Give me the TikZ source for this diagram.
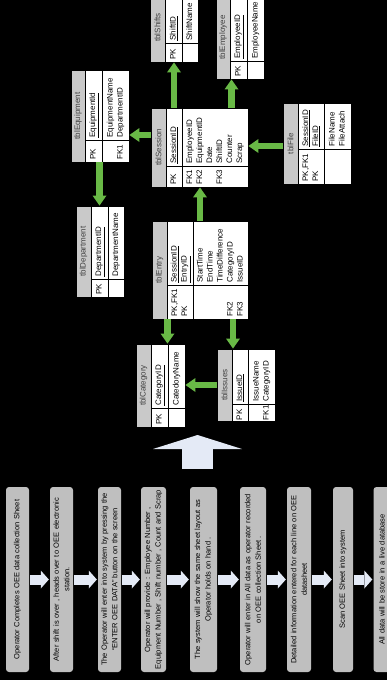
\documentclass[tikz,border=0pt]{standalone}
\usepackage{fontspec}
\setmainfont{Liberation Sans}
\usetikzlibrary{arrows.meta}

\begin{document}
\begin{tikzpicture}[x=1pt,y=-1pt,every node/.append style={rotate=90},
  hdr/.style={draw=black,line width=.9pt,fill=hdrgray,text=black!75,inner sep=0pt,font=\fontsize{8}{10}\selectfont},
  cell/.style={draw=black,line width=.9pt,fill=white,inner xsep=2.5pt,inner ysep=0pt,align=left,font=\fontsize{8}{10}\selectfont,execute at begin node=\strut,execute at end node=\strut},
  flowbox/.style={fill=flowgray,rounded corners=3pt,text width=183pt,inner xsep=1pt,inner ysep=0pt,align=center,font=\fontsize{7.5}{10.5}\selectfont},
  garrow/.style={draw=tablegreen,line width=6.5pt,-{Triangle[width=14pt,length=10pt,line width=0pt]}},
  warrow/.style={draw=paleblue,line width=10pt,shorten <=1pt,shorten >=1pt,-{Triangle[width=18pt,length=8pt,line width=0pt]}},
  bigarrow/.style={draw=paleblue,line width=31pt,-{Triangle[width=89pt,length=14pt,line width=0pt]}}]
\definecolor{hdrgray}{HTML}{C9C9C9}
\definecolor{flowgray}{HTML}{BFBFBF}
\definecolor{paleblue}{HTML}{E4EAF6}
\definecolor{tablegreen}{HTML}{69B946}
\path[use as bounding box] (0,0) rectangle (387,680);
\clip (0,0) rectangle (387,680);
\fill[black] (0,0) rectangle (387,680);

% process steps
\foreach \i/\cx/\h/\txt in {1/17.5/23/{Operator Completes OEE data collection Sheet},
  2/61.5/23/{After shift is over , heads over to OEE electronic\\station.},
  3/109.5/23/{The Operator will enter into system by pressing the\\``ENTER OEE DATA'' button on the screen},
  4/153.5/25/{Operator will provide : Employee Number ,\\Equipment Number , Shift number , Count and Scrap},
  5/203.5/27/{The system will show the same sheet layout as\\Operator holds on hand .},
  6/253/26/{Operator will enter in All data as operator recorded\\on OEE collection Sheet .},
  7/299/24/{Detailed information entered for each line on OEE\\datasheet},
  8/343/20/{Scan OEE Sheet into system},
  9/382/17/{All data will be store in a live database}}
  {\node[flowbox,minimum height=\h] (f\i) at (\cx,579.5) {\txt};}
\foreach \i [remember=\i as \last (initially 1)] in {2,...,9}
  {\draw[warrow] (f\last.south) -- (f\i.north);}
\coordinate (dbfrom) at (197.5,469);
\coordinate (dbto) at (197.5,435);
\draw[bigarrow] (dbfrom) -- (dbto);

% tblShifts
\node[hdr,minimum width=69pt,minimum height=15pt] (shh) at (157.5,27.5) {tblShifts};
\node[cell,text width=14pt,minimum height=17pt] (shk1) at (173.5,52.5) {PK};
\node[cell,text width=45pt,minimum height=17pt] (shn1) at (173.5,18) {\underline{ShiftID}};
\node[cell,text width=14pt,minimum height=16pt] (shk2) at (190,52.5) {};
\node[cell,text width=45pt,minimum height=16pt] (shn2) at (190,18) {ShiftName};
% tblEmployee
\node[hdr,minimum width=83pt,minimum height=14pt] (emh) at (223,37.5) {tblEmployee};
\node[cell,text width=13pt,minimum height=17pt] (emk1) at (238.5,70) {PK};
\node[cell,text width=60pt,minimum height=17pt] (emn1) at (238.5,28.5) {\underline{EmployeeID}};
\node[cell,text width=13pt,minimum height=17pt] (emk2) at (255.5,70) {};
\node[cell,text width=60pt,minimum height=17pt] (emn2) at (255.5,28.5) {EmployeeName};
% tblEquipment
\node[hdr,minimum width=92pt,minimum height=14pt] (eqh) at (78,116) {tblEquipment};
\node[cell,text width=17pt,minimum height=17pt] (eqk1) at (93.5,151) {PK};
\node[cell,text width=65pt,minimum height=17pt] (eqn1) at (93.5,105) {\underline{EquipmentId}};
\node[cell,text width=17pt,minimum height=27pt] (eqk2) at (115.5,151) {\mbox{}\\FK1};
\node[cell,text width=65pt,minimum height=27pt] (eqn2) at (115.5,105) {EquipmentName\\DepartmentID};
% tblSession
\node[hdr,minimum width=79pt,minimum height=15pt] (seh) at (158.5,147.5) {tblSession};
\node[cell,text width=16pt,minimum height=16pt] (sek1) at (174,176.5) {PK};
\node[cell,text width=53pt,minimum height=16pt] (sen1) at (174,137) {\underline{SessionID}};
\node[cell,text width=16pt,minimum height=66pt] (sek2) at (215,176.5) {FK1\\FK2\\\mbox{}\\FK3\\\mbox{}\\\mbox{}};
\node[cell,text width=53pt,minimum height=66pt] (sen2) at (215,137) {EmployeeID\\EquipmentID\\Date\\ShiftID\\Counter\\Scrap};
% tblFile
\node[hdr,minimum width=81pt,minimum height=15pt] (fih) at (290.5,143.5) {tblFile};
\node[cell,text width=30pt,minimum height=26pt] (fik1) at (311,166.5) {PK,FK1\\PK};
\node[cell,text width=41pt,minimum height=26pt] (fin1) at (311,126) {\underline{SessionID}\\\underline{FileID}};
\node[cell,text width=30pt,minimum height=27pt] (fik2) at (337.5,166.5) {};
\node[cell,text width=41pt,minimum height=27pt] (fin2) at (337.5,126) {FileName\\FileAttach};
% tblDepartment
\node[hdr,minimum width=91pt,minimum height=15pt] (deh) at (83.5,251.5) {tblDepartment};
\node[cell,text width=13pt,minimum height=17pt] (dek1) at (99.5,288) {PK};
\node[cell,text width=68pt,minimum height=17pt] (den1) at (99.5,242.5) {\underline{DepartmentID}};
\node[cell,text width=13pt,minimum height=16pt] (dek2) at (116,288) {};
\node[cell,text width=68pt,minimum height=16pt] (den2) at (116,242.5) {DepartmentName};
% tblEntry
\node[hdr,minimum width=98pt,minimum height=15pt] (enh) at (159.5,270) {tblEntry};
\node[cell,text width=29pt,minimum height=26pt] (enk1) at (180,302) {PK,FK1\\PK};
\node[cell,text width=59pt,minimum height=26pt] (enn1) at (180,253) {\underline{SessionID}\\\underline{EntryID}};
\node[cell,text width=29pt,minimum height=55pt] (enk2) at (220.5,302) {\mbox{}\\\mbox{}\\\mbox{}\\FK2\\FK3};
\node[cell,text width=59pt,minimum height=55pt] (enn2) at (220.5,253) {StartTime\\EndTime\\TimeDifference\\CategoryID\\IssueID};
% tblIssues
\node[hdr,minimum width=72pt,minimum height=15pt] (ish) at (224.5,385) {tblIssues};
\node[cell,text width=15pt,inner xsep=1pt,minimum height=16pt] (isk1) at (240,412.5) {PK};
\node[cell,text width=50pt,minimum height=16pt] (isn1) at (240,376.5) {\underline{IssueID}};
\node[cell,text width=15pt,inner xsep=1pt,minimum height=27pt] (isk2) at (261.5,412.5) {\mbox{}\\FK1};
\node[cell,text width=50pt,minimum height=27pt] (isn2) at (261.5,376.5) {IssueName\\CategoryID};
% tblCategory
\node[hdr,minimum width=83pt,minimum height=15pt] (cah) at (143.5,385.5) {tblCategory};
\node[cell,text width=14pt,minimum height=17pt] (cak1) at (159.5,417.5) {PK};
\node[cell,text width=59pt,minimum height=17pt] (can1) at (159.5,376) {\underline{CategoryID}};
\node[cell,text width=14pt,minimum height=17pt] (cak2) at (176.5,417.5) {};
\node[cell,text width=59pt,minimum height=17pt] (can2) at (176.5,376) {CatedoryName};

% relations
\coordinate (seout) at ([yshift=12.5pt]seh.north);
\coordinate (emin) at ([xshift=-7pt]emk1.west);
\coordinate (fiout) at ([yshift=-2.5pt]fih.north);
\coordinate (enout) at ([xshift=20pt]enn1.east);
\coordinate (cain) at ([xshift=8pt]can1.east);
\coordinate (isin) at ([xshift=-7pt]isn1.east);
\draw[garrow] (den1.east |- eqk1.west) -- (den1.east);
\draw[garrow] (seout) -- (seout -| eqn2.south);
\draw[garrow] (sen1.east) -- (sen1.east |- shk1.west);
\draw[garrow] (emin |- sen2.east) -- (emin);
\draw[garrow] (fiout) -- (fiout -| sen2.south);
\draw[garrow] (enout) -- (enout |- sek2.west);
\draw[garrow] (cain |- enk1.west) -- (cain);
\draw[garrow] (isin |- enk2.west) -- (isin);
\draw[garrow] (ish.north) -- (ish.north -| can2.south);
\end{tikzpicture}
\end{document}
